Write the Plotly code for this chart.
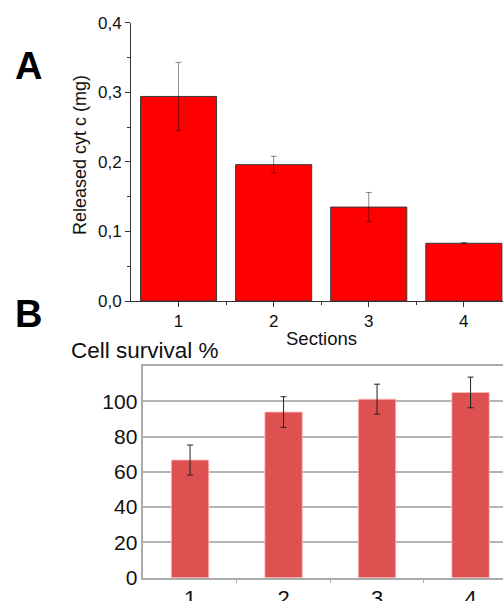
import plotly.graph_objects as go

# ---- data ----
sections = [1, 2, 3, 4]
cyt_c = [0.294, 0.196, 0.135, 0.083]
cyt_c_err = [0.049, 0.012, 0.021, 0.001]
survival = [66.7, 93.9, 101.2, 105.0]
survival_err = [8.5, 8.7, 8.5, 8.7]
top_yticks = [0.0, 0.1, 0.2, 0.3, 0.4]
bottom_yticks = [0, 20, 40, 60, 80, 100]

W, H = 503, 601
FONT = "Liberation Sans, Arial, sans-serif"

def px_x(p):
    return p / W

def px_y(p):
    return 1 - p / H

fig = go.Figure()

fig.add_trace(go.Bar(
    x=sections, y=cyt_c, width=0.8,
    marker=dict(color="#FF0000", line=dict(color="#3a3a3a", width=1)),
    error_y=dict(type="data", array=cyt_c_err, color="rgba(0,0,0,0.45)",
                 thickness=1, width=3),
    xaxis="x", yaxis="y", showlegend=False,
))

fig.add_trace(go.Bar(
    x=sections, y=survival, width=0.4,
    marker=dict(color="#DD5251", line=dict(color="rgba(255,190,190,0.8)", width=1)),
    error_y=dict(type="data", array=survival_err, color="#222222",
                 thickness=1, width=3),
    xaxis="x2", yaxis="y2", showlegend=False,
))

fig.update_layout(
    width=W, height=H,
    margin=dict(l=0, r=0, t=0, b=0, autoexpand=False),
    paper_bgcolor="white", plot_bgcolor="white",
    separators=", ",
    font=dict(family=FONT, color="#111"),
    xaxis=dict(
        domain=[px_x(131), 1.0], range=[0.5, 0.5 + (W - 131) / 95.1],
        tickvals=sections, ticktext=[str(s) for s in sections],
        ticks="outside", ticklen=5, tickcolor="#333", tickwidth=1,
        minor=dict(tickvals=[1.5, 2.5, 3.5], ticks="outside", ticklen=3,
                   tickcolor="#333"),
        showline=True, linecolor="#333", linewidth=1,
        showgrid=False, zeroline=False, automargin=False,
        tickfont=dict(size=17, family=FONT),
        anchor="y",
    ),
    yaxis=dict(
        domain=[px_y(301), px_y(22.7)], range=[0, 0.4],
        tickvals=top_yticks, tickformat=".1f",
        ticks="outside", ticklen=5, tickcolor="#333", tickwidth=1,
        minor=dict(dtick=0.05, ticks="outside", ticklen=3, tickcolor="#333"),
        showline=True, linecolor="#333", linewidth=1,
        showgrid=False, zeroline=False, automargin=False,
        tickfont=dict(size=17, family=FONT),
        anchor="x",
    ),
    xaxis2=dict(
        domain=[px_x(143.3), 1.0], range=[0.5, 0.5 + (W - 143.3) / 93.5],
        tickvals=sections, ticktext=[str(s) for s in sections],
        ticks="",
        minor=dict(tickvals=[1.5, 2.5, 3.5], ticks="outside", ticklen=4,
                   tickcolor="#aaaaaa"),
        showline=True, linecolor="#aaaaaa", linewidth=1.5, mirror=True,
        showgrid=False, zeroline=False, automargin=False,
        tickfont=dict(size=22, family=FONT),
        anchor="y2",
    ),
    yaxis2=dict(
        domain=[px_y(577.7), px_y(366)], range=[0, 120],
        tickvals=bottom_yticks, ticks="",
        showline=True, linecolor="#aaaaaa", linewidth=1.5, mirror=True,
        showgrid=True, gridcolor="#b4b4b4", gridwidth=1.5, zeroline=False,
        automargin=False,
        tickfont=dict(size=21, family=FONT),
        anchor="x2",
    ),
    annotations=[
        dict(text="<b>A</b>", x=px_x(28), y=px_y(66), xref="paper", yref="paper",
             xanchor="center", yanchor="middle",
             showarrow=False, font=dict(size=38, family=FONT, color="black")),
        dict(text="<b>B</b>", x=px_x(28), y=px_y(314), xref="paper", yref="paper",
             xanchor="center", yanchor="middle",
             showarrow=False, font=dict(size=38, family=FONT, color="black")),
        dict(text="Released cyt c (mg)", x=px_x(80), y=px_y(155), xref="paper",
             yref="paper", textangle=-90, showarrow=False,
             xanchor="center", yanchor="middle",
             font=dict(size=18, family=FONT, color="#111")),
        dict(text="Sections", x=px_x(321.5), y=px_y(338.5), xref="paper",
             yref="paper", showarrow=False, xanchor="center", yanchor="middle",
             font=dict(size=18.5, family=FONT, color="#111")),
        dict(text="Cell survival %", x=px_x(144.5), y=px_y(350), xref="paper",
             yref="paper", showarrow=False, xanchor="center", yanchor="middle",
             font=dict(size=22.5, family=FONT, color="#111")),
    ],
)

fig.write_html("out.html")
